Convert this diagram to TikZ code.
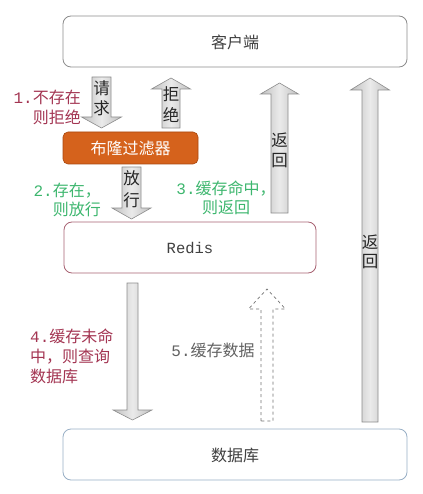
\documentclass[tikz,border=0pt]{standalone}
\usepackage{fontspec}
\newfontfamily\cjk{Noto Sans CJK SC}
\newfontfamily\monof{Liberation Mono}
\definecolor{boxtext}{HTML}{404040}
\definecolor{darkred}{HTML}{A33552}
\definecolor{lgreen}{HTML}{3DB66E}
\definecolor{bloom}{HTML}{D5621C}
\definecolor{bloomedge}{HTML}{A8480F}
\definecolor{redisedge}{HTML}{A86373}
\definecolor{dbedge}{HTML}{98AFC6}
\newcommand{\barrow}[7][blockarrow]{%
  \path[#1] ({#2-#6},#3) -- ({#2-#6},#4) -- ({#2-#7},#4) -- (#2,#5) -- ({#2+#7},#4) -- ({#2+#6},#4) -- ({#2+#6},#3) -- cycle;}
\tikzset{
  blockarrow/.style={draw=black!45, line width=0.6pt, left color=black!25, right color=black!25, middle color=black!8},
  dashedarrow/.style={draw=black!55, line width=0.7pt, dashed, fill=white},
  mainbox/.style={rounded corners=8pt, line width=0.8pt},
  boxlabel/.style={font=\cjk\fontsize{16}{20}\selectfont, text=boxtext},
  arrowlabel/.style={font=\cjk\fontsize{16.5}{20.5}\selectfont, text=black!85, inner sep=0pt},
  redlabel/.style={font=\cjk\fontsize{16}{20}\selectfont, text=darkred, inner sep=0pt},
  greenlabel/.style={font=\cjk\fontsize{16}{19}\selectfont, text=lgreen, inner sep=0pt},
  graylabel/.style={font=\cjk\fontsize{16}{20}\selectfont, text=black!62, inner sep=0pt},
}
\begin{document}
\begin{tikzpicture}[x=1pt,y=-1pt]
\useasboundingbox (0,0) rectangle (422,494);
% boxes
\draw[mainbox, draw=black!45, fill=white] (63,16) rectangle (407,67);
\node[boxlabel] (client) at (235,42) {客户端};
\draw[rounded corners=5pt, draw=bloomedge, fill=bloom, line width=0.6pt] (63,132) rectangle (198,164);
\node[boxlabel, text=white] (bloomf) at (130.5,148) {布隆过滤器};
\draw[mainbox, draw=redisedge, fill=white] (64,222) rectangle (316,273);
\node[font=\monof\fontsize{15.5}{18}\selectfont, text=boxtext] (redis) at (190,248) {Redis};
\draw[mainbox, draw=dbedge, fill=white] (63,429) rectangle (407,480);
\node[boxlabel] (db) at (235,455) {数据库};
% block arrows
\barrow{101.5}{77}{117}{128}{9.5}{20}
\barrow{171}{128}{89}{78}{9}{19.5}
\barrow{131.5}{167}{208}{219}{9.5}{19.5}
\barrow{279.5}{213}{94}{83}{8.5}{19}
\barrow{370}{422}{90}{78}{8}{19.5}
\barrow{132.5}{283}{410}{420}{5.5}{19.5}
\barrow[dashedarrow]{267}{421}{309}{289}{6}{18.5}
% arrow texts
\node[arrowlabel] (req1) at (101.5,88) {请};
\node[arrowlabel] (req2) at (101.5,108.5) {求};
\node[arrowlabel] (rej1) at (171,94) {拒};
\node[arrowlabel] (rej2) at (171,115) {绝};
\node[arrowlabel] (rel1) at (131.5,178) {放};
\node[arrowlabel] (rel2) at (131.5,200) {行};
\node[arrowlabel] (ret1a) at (279.5,140) {返};
\node[arrowlabel] (ret1b) at (279.5,161) {回};
\node[arrowlabel] (ret2a) at (370,242.5) {返};
\node[arrowlabel] (ret2b) at (370,262) {回};
% step labels
\node[redlabel, align=right, anchor=east] (l1) at (81,107) {{\monof 1.}不存在\\则拒绝};
\node[greenlabel, align=right, anchor=east] (l2) at (101,199.5) {{\monof 2.}存在，\\则放行};
\node[greenlabel, align=center] (l3) at (226,197.5) {{\monof 3.}缓存命中，\\则返回};
\node[redlabel, align=left, anchor=west] (l4) at (30,356.5) {{\monof 4.}缓存未命\\中，则查询\\数据库};
\node[graylabel] (l5) at (213,350) {{\monof 5.}缓存数据};
\end{tikzpicture}
\end{document}
